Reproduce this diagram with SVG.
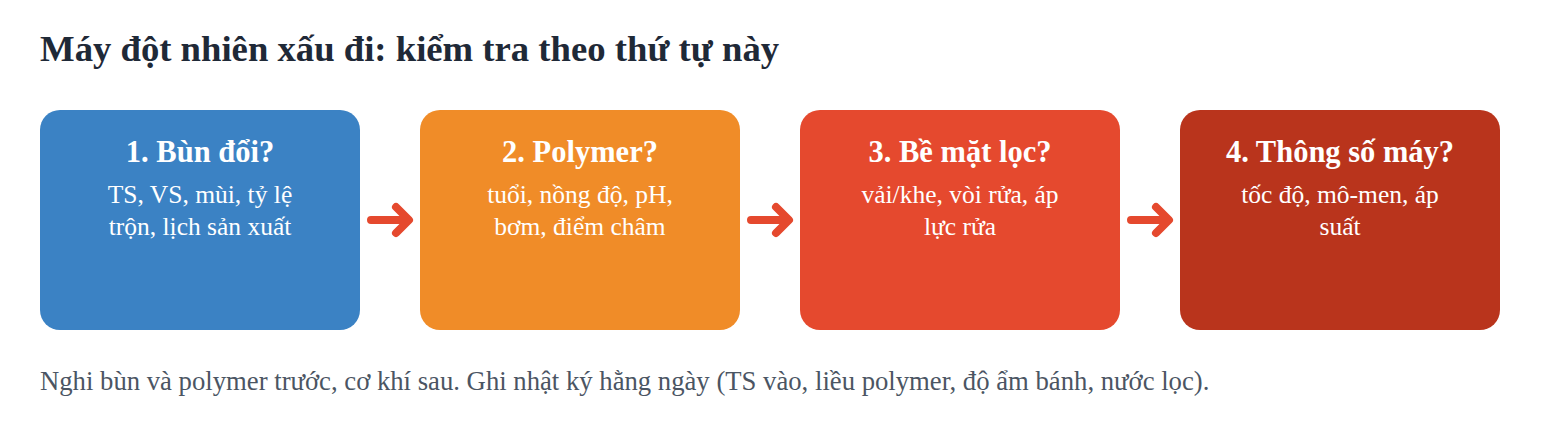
<svg xmlns="http://www.w3.org/2000/svg" width="1560" height="430" viewBox="0 0 1560 430">
<style>
.title{font-family:"Liberation Serif","Times New Roman",serif;font-weight:bold;font-size:36.7px;fill:#1f2937}
.h{font-family:"Liberation Serif","Times New Roman",serif;font-weight:bold;font-size:30.5px;fill:#ffffff;text-anchor:middle}
.b{font-family:"Liberation Serif","Times New Roman",serif;font-size:25.5px;fill:#ffffff;text-anchor:middle}
.foot{font-family:"Liberation Serif","Times New Roman",serif;font-size:26.7px;fill:#4b5563}
.arr{fill:none;stroke:#e5492e;stroke-width:8;stroke-linecap:round;stroke-linejoin:round}
</style>
<rect width="1560" height="430" fill="#ffffff"/>
<text class="title" x="40" y="61">Máy đột nhiên xấu đi: kiểm tra theo thứ tự này</text>
<g id="node1">
<rect x="40" y="110" width="320" height="220" rx="20" fill="#3b82c4"/>
<text class="h" x="200" y="162">1. Bùn đổi?</text>
<text class="b" x="200" y="203">TS, VS, mùi, tỷ lệ</text>
<text class="b" x="200" y="235">trộn, lịch sản xuất</text>
</g>
<g id="node2">
<rect x="420" y="110" width="320" height="220" rx="20" fill="#f08c28"/>
<text class="h" x="580" y="162">2. Polymer?</text>
<text class="b" x="580" y="203">tuổi, nồng độ, pH,</text>
<text class="b" x="580" y="235">bơm, điểm châm</text>
</g>
<g id="node3">
<rect x="800" y="110" width="320" height="220" rx="20" fill="#e5492e"/>
<text class="h" x="960" y="162">3. Bề mặt lọc?</text>
<text class="b" x="960" y="203">vải/khe, vòi rửa, áp</text>
<text class="b" x="960" y="235">lực rửa</text>
</g>
<g id="node4">
<rect x="1180" y="110" width="320" height="220" rx="20" fill="#b9341c"/>
<text class="h" x="1340" y="162">4. Thông số máy?</text>
<text class="b" x="1340" y="203">tốc độ, mô-men, áp</text>
<text class="b" x="1340" y="235">suất</text>
</g>
<g id="connectors">
<path class="arr" d="M371 220 H408 M396 207 L409 220 L396 233"/>
<path class="arr" d="M751 220 H788 M776 207 L789 220 L776 233"/>
<path class="arr" d="M1131 220 H1168 M1156 207 L1169 220 L1156 233"/>
</g>
<text class="foot" x="40" y="390">Nghi bùn và polymer trước, cơ khí sau. Ghi nhật ký hằng ngày (TS vào, liều polymer, độ ẩm bánh, nước lọc).</text>
</svg>
